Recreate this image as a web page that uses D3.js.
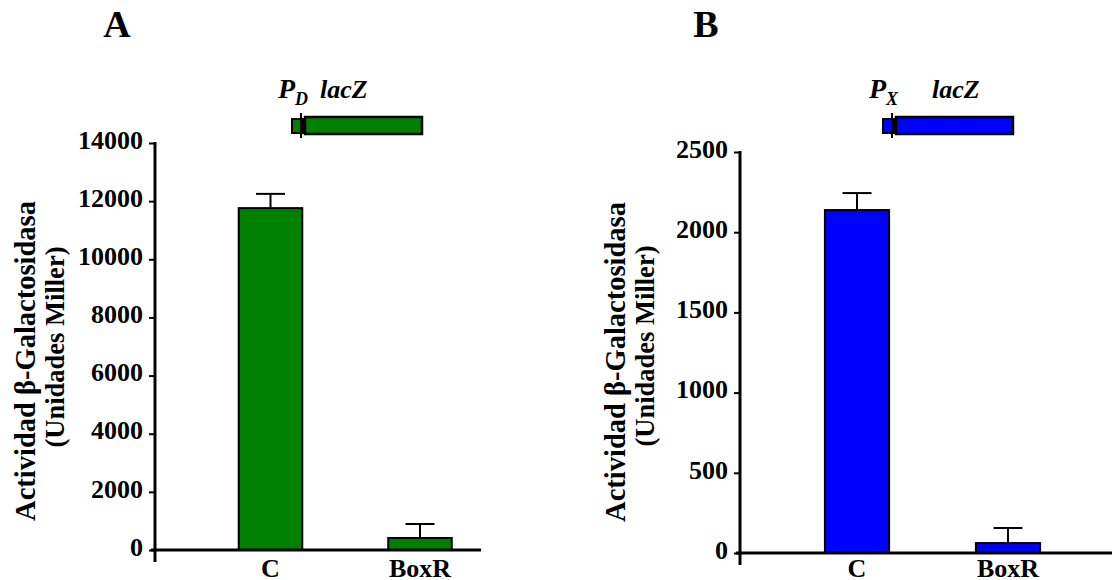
<!DOCTYPE html>
<html>
<head>
<meta charset="utf-8">
<script src="https://cdn.jsdelivr.net/npm/d3@7"></script>
<style>
  body { margin: 0; background: #fff; }
  svg { display: block; }
  svg text { font-family: 'Liberation Serif', 'Times New Roman', serif; font-weight: bold; fill: #000; }
</style>
</head>
<body>
<div id="chart"></div>
<script>
// data
const categories = ['C', 'BoxR'];
const valuesA = [11760, 413];
const errorsA = [490, 481];
const valuesB = [2138, 62];
const errorsB = [106, 94];
const ticksA = [0, 2000, 4000, 6000, 8000, 10000, 12000, 14000];
const ticksB = [0, 500, 1000, 1500, 2000, 2500];
const titleLine1 = 'Actividad β-Galactosidasa';
const titleLine2 = '(Unidades Miller)';

const FONT = "'Liberation Serif', 'Times New Roman', serif";

const svg = d3.select('#chart').append('svg')
  .attr('width', 1112)
  .attr('height', 580);

function drawPanel(p) {
  const g = svg.append('g');

  const y = d3.scaleLinear().domain([0, p.max]).range([p.y0, p.y1]);
  const x = d3.scaleBand().domain(categories)
    .range(p.xr).paddingInner(0.575).paddingOuter(0.2875);

  // bars
  g.selectAll('rect.bar')
    .data(p.values)
    .enter()
    .append('rect')
    .attr('class', 'bar')
    .attr('x', (d, i) => x(categories[i]))
    .attr('width', x.bandwidth())
    .attr('y', d => y(d))
    .attr('height', d => y(0) - y(d))
    .attr('fill', p.color)
    .attr('stroke', '#000')
    .attr('stroke-width', 2);

  // error bars (upper only)
  const capW = 29;
  p.values.forEach((v, i) => {
    const cx = x(categories[i]) + x.bandwidth() / 2;
    g.append('line')
      .attr('x1', cx).attr('x2', cx)
      .attr('y1', y(v)).attr('y2', y(v + p.errors[i]))
      .attr('stroke', '#000').attr('stroke-width', 2);
    g.append('line')
      .attr('x1', cx - capW / 2).attr('x2', cx + capW / 2)
      .attr('y1', y(v + p.errors[i])).attr('y2', y(v + p.errors[i]))
      .attr('stroke', '#000').attr('stroke-width', 2);
  });

  // y axis
  const yAxis = d3.axisLeft(y).tickValues(p.ticks).tickSize(6).tickPadding(6)
    .tickFormat(d3.format('d'));
  const ax = g.append('g')
    .attr('transform', 'translate(' + p.axisX + ',0)')
    .call(yAxis)
    .attr('font-family', FONT)
    .attr('font-size', 26);
  ax.select('.domain').remove();
  ax.selectAll('.tick line').attr('stroke', '#000').attr('stroke-width', 2);
  ax.selectAll('.tick text').attr('dy', '0.2em');

  g.append('line')
    .attr('x1', p.axisX).attr('x2', p.axisX)
    .attr('y1', y(p.max) - 1).attr('y2', p.y0 + 12)
    .attr('stroke', '#000').attr('stroke-width', 3);
  g.append('line')
    .attr('x1', p.axisX - 4).attr('x2', p.xEnd)
    .attr('y1', y(0)).attr('y2', y(0))
    .attr('stroke', '#000').attr('stroke-width', 3);

  // category labels
  g.selectAll('text.cat')
    .data(categories)
    .enter()
    .append('text')
    .attr('class', 'cat')
    .attr('x', d => x(d) + x.bandwidth() / 2)
    .attr('y', 577)
    .attr('text-anchor', 'middle')
    .attr('font-size', 26)
    .text(d => d);

  // y title
  g.append('text')
    .attr('transform', 'translate(' + p.titleX + ',' + p.titleY1 + ') rotate(-90)')
    .attr('text-anchor', 'middle')
    .attr('dominant-baseline', 'central')
    .attr('font-size', 28.5)
    .text(titleLine1);
  g.append('text')
    .attr('transform', 'translate(' + (p.titleX + 30) + ',' + p.titleY2 + ') rotate(-90)')
    .attr('text-anchor', 'middle')
    .attr('dominant-baseline', 'central')
    .attr('font-size', 26.5)
    .text(titleLine2);

  // panel letter
  g.append('text')
    .attr('x', p.letterX).attr('y', 37)
    .attr('text-anchor', 'middle')
    .attr('font-size', 38)
    .text(p.letter);

  // promoter - lacZ fusion sketch
  const s = p.sketch;
  g.append('rect')
    .attr('x', s.x).attr('y', 119).attr('width', 11).attr('height', 14)
    .attr('fill', p.color).attr('stroke', '#000').attr('stroke-width', 2);
  g.append('rect')
    .attr('x', s.x + 13).attr('y', 117).attr('width', 117).attr('height', 17)
    .attr('fill', p.color).attr('stroke', '#000').attr('stroke-width', 2.5);
  g.append('line')
    .attr('x1', s.x + 9).attr('x2', s.x + 9)
    .attr('y1', 113).attr('y2', 138)
    .attr('stroke', '#000').attr('stroke-width', 2);

  const t = g.append('text')
    .attr('x', s.x - 14).attr('y', 98)
    .attr('font-style', 'italic')
    .attr('font-size', 28);
  t.append('tspan').text('P');
  t.append('tspan').attr('font-size', 18).attr('dy', 7).text(p.sub);
  g.append('text')
    .attr('x', s.lacX).attr('y', 98)
    .attr('font-style', 'italic')
    .attr('font-size', 26)
    .text('lacZ');
}

drawPanel({
  letter: 'A', letterX: 117, sub: 'D', color: '#008000',
  values: valuesA, errors: errorsA, ticks: ticksA, max: 14000,
  y0: 550, y1: 143, axisX: 155, xEnd: 481, xr: [195.75, 494.75],
  titleX: 25, titleY1: 361, titleY2: 347,
  sketch: { x: 292, lacX: 320 }
});

drawPanel({
  letter: 'B', letterX: 706, sub: 'X', color: '#0000ff',
  values: valuesB, errors: errorsB, ticks: ticksB, max: 2500,
  y0: 553, y1: 152, axisX: 740, xEnd: 1112, xr: [781.5, 1083.5],
  titleX: 615, titleY1: 362, titleY2: 346,
  sketch: { x: 883, lacX: 932 }
});
</script>
</body>
</html>
